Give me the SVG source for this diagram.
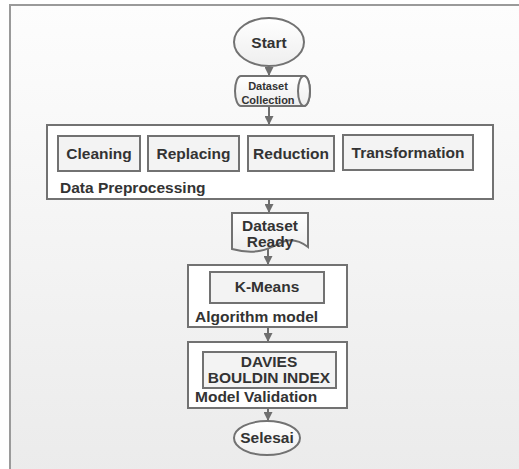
<svg xmlns="http://www.w3.org/2000/svg" width="519" height="469" viewBox="0 0 519 469">
  <defs>
    <linearGradient id="bg" x1="0" y1="0" x2="0" y2="1">
      <stop offset="0" stop-color="#fdfdfd"/>
      <stop offset="1" stop-color="#ebebeb"/>
    </linearGradient>
    <linearGradient id="nodeFill" x1="0" y1="0" x2="0" y2="1">
      <stop offset="0" stop-color="#ffffff"/>
      <stop offset="1" stop-color="#eeeeee"/>
    </linearGradient>
    <marker id="arrow" viewBox="0 0 10 10" refX="10" refY="5" markerWidth="9" markerHeight="9" markerUnits="userSpaceOnUse" orient="auto">
      <path d="M0,0 L10,5 L0,10 Z" fill="#6e6e6e"/>
    </marker>
  </defs>
  <style>
    .shape { fill: url(#nodeFill); stroke: #727272; stroke-width: 2; }
    .group { fill: #ffffff; stroke: #727272; stroke-width: 2; }
    .inner { fill: #f3f3f3; stroke: #727272; stroke-width: 2; }
    .t { font-family: "Liberation Sans", Arial, sans-serif; font-weight: bold; font-size: 15.5px; fill: #333333; }
    .c { text-anchor: middle; }
    .small { font-size: 11px; }
    .link { stroke: #6e6e6e; stroke-width: 2; fill: none; marker-end: url(#arrow); }
  </style>

  <!-- page background and frame -->
  <rect x="0" y="0" width="519" height="469" fill="#ffffff"/>
  <rect x="10" y="5" width="515" height="470" fill="url(#bg)" stroke="#9a9a9a" stroke-width="2"/>

  <!-- connectors -->
  <g id="connectors">
    <line class="link" x1="269" y1="67" x2="269" y2="76"/>
    <line class="link" x1="269" y1="106" x2="269" y2="125"/>
    <line class="link" x1="269" y1="199" x2="269" y2="213"/>
    <line class="link" x1="268" y1="249" x2="268" y2="265"/>
    <line class="link" x1="268" y1="327" x2="268" y2="342"/>
    <line class="link" x1="268" y1="408" x2="268" y2="421"/>
  </g>

  <g id="start">
    <ellipse class="shape" cx="269" cy="42" rx="35" ry="24"/>
    <text class="t c" x="269" y="48" font-size="16px">Start</text>
  </g>

  <g id="dataset-collection">
    <path class="shape" d="M241,76 H304 A6,15 0 0 1 304,106 H241 A6,15 0 0 1 241,76 Z"/>
    <ellipse class="shape" cx="304" cy="91" rx="6" ry="15"/>
    <text class="t c small" x="268" y="90">Dataset</text>
    <text class="t c small" x="268" y="104">Collection</text>
  </g>

  <g id="data-preprocessing">
    <rect class="group" x="47" y="125" width="446" height="74"/>
    <text class="t" x="60" y="193">Data Preprocessing</text>
    <g id="cleaning">
      <rect class="inner" x="58" y="136" width="82" height="35"/>
      <text class="t c" x="99" y="159">Cleaning</text>
    </g>
    <g id="replacing">
      <rect class="inner" x="148" y="136" width="91" height="35"/>
      <text class="t c" x="193.5" y="159">Replacing</text>
    </g>
    <g id="reduction">
      <rect class="inner" x="248" y="136" width="86" height="35"/>
      <text class="t c" x="291" y="159">Reduction</text>
    </g>
    <g id="transformation">
      <rect class="inner" x="343" y="135" width="130" height="35"/>
      <text class="t c" x="408" y="158">Transformation</text>
    </g>
  </g>

  <g id="dataset-ready">
    <path class="shape" d="M232,213 H308 V247 C300,241 292,238 282,242 C270,248 258,256 232,249 Z"/>
    <text class="t c" x="270" y="231">Dataset</text>
    <text class="t c" x="270" y="247">Ready</text>
  </g>

  <g id="algorithm-model">
    <rect class="group" x="188" y="265" width="159" height="62"/>
    <text class="t" x="195" y="322">Algorithm model</text>
    <g id="k-means">
      <rect class="inner" x="210" y="272" width="114" height="31"/>
      <text class="t c" x="267" y="292" font-size="16px">K-Means</text>
    </g>
  </g>

  <g id="model-validation">
    <rect class="group" x="188" y="342" width="159" height="66"/>
    <text class="t" x="195" y="402">Model Validation</text>
    <g id="davies-bouldin">
      <rect class="inner" x="203" y="352" width="133" height="36"/>
      <text class="t c" x="269" y="367" font-size="15px">DAVIES</text>
      <text class="t c" x="269" y="383" font-size="15px">BOULDIN INDEX</text>
    </g>
  </g>

  <g id="selesai">
    <ellipse class="shape" cx="267" cy="438" rx="33" ry="17"/>
    <text class="t c" x="267" y="443">Selesai</text>
  </g>
</svg>
